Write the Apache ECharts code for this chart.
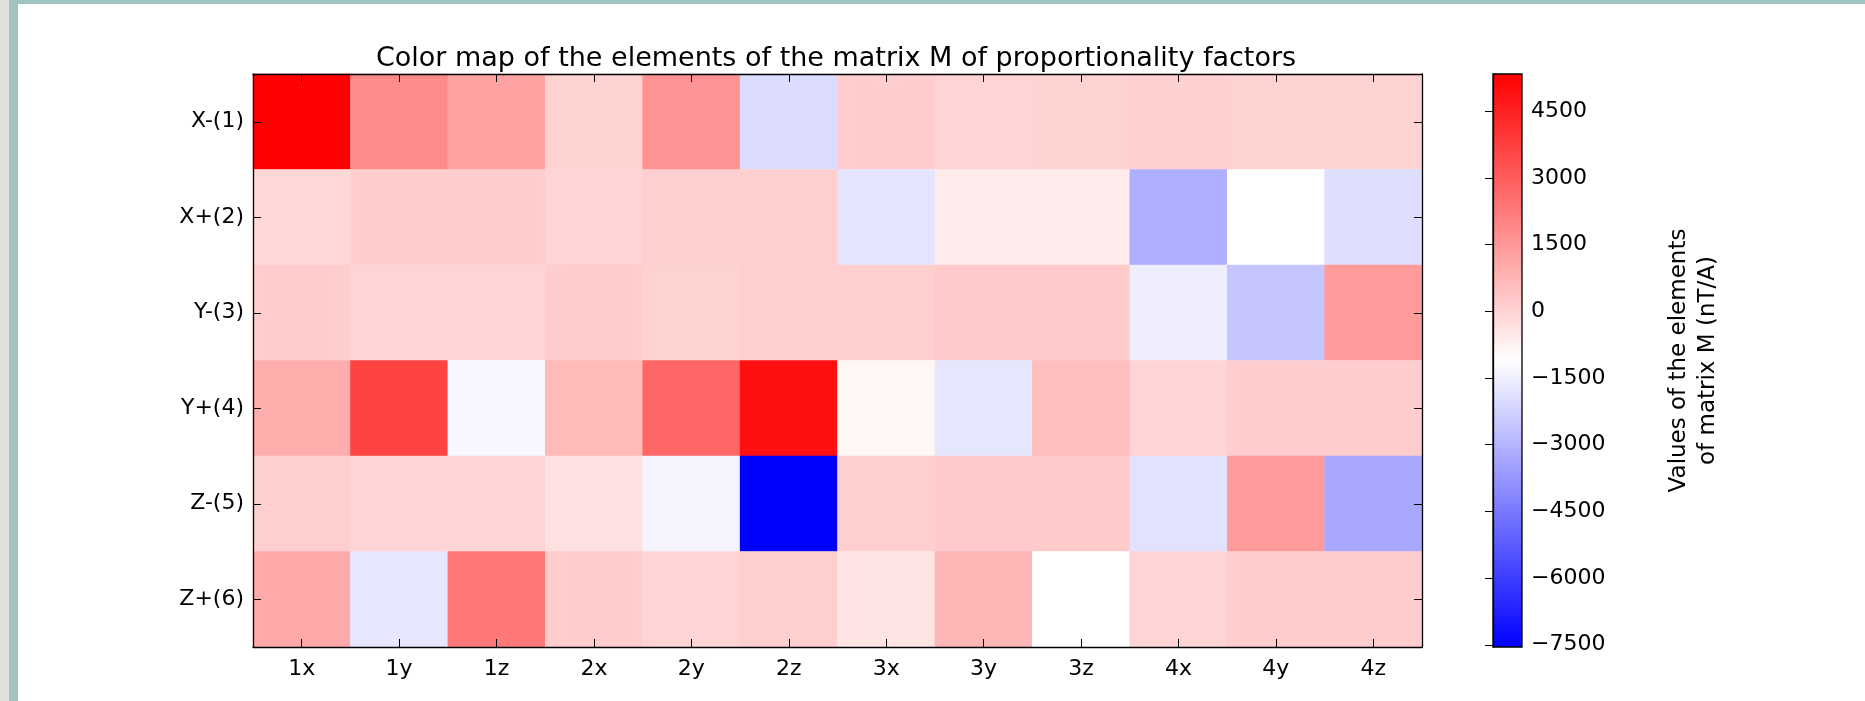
<!DOCTYPE html>
<html>
<head>
<meta charset="utf-8">
<script src="https://cdn.jsdelivr.net/npm/echarts@6/dist/echarts.min.js"></script>
<style>
  html, body { margin: 0; padding: 0; background: #ffffff; }
  #chart { position: absolute; left: 0; top: 0; width: 1865px; height: 701px; }
  .band { position: absolute; z-index: 5; }
</style>
</head>
<body>
<div id="chart"></div>
<div class="band" style="left:0;top:0;width:9px;height:701px;background:#e0e0dc;"></div>
<div class="band" style="left:9px;top:0;width:9px;height:701px;background:#9fc3bf;"></div>
<div class="band" style="left:9px;top:0;width:1856px;height:4px;background:#9fc3bf;"></div>
<script>
// ---- data ----
const rowLabels = ['X-(1)', 'X+(2)', 'Y-(3)', 'Y+(4)', 'Z-(5)', 'Z+(6)'];
const colLabels = ['1x', '1y', '1z', '2x', '2y', '2z', '3x', '3y', '3z', '4x', '4y', '4z'];
const rowX1 = [5335, 1850, 1240, 30, 1650, -1990, 155, -20, 30, 80, 30, 30];
const rowX2 = [-100, 155, 155, -20, 130, 130, -1790, -600, -600, -3130, -1110, -1940];
const rowY3 = [155, -20, -20, 155, 30, 105, 130, 230, 230, -1540, -2550, 1420];
const rowY4 = [990, 3670, -1310, 630, 2760, 4960, -870, -1740, 535, -20, 155, 155];
const rowZ5 = [105, -20, -20, -350, -1380, -7550, 105, 230, 230, -1840, 1420, -3310];
const rowZ6 = [1040, -1740, 2300, 155, -20, 105, -425, 735, -1110, -20, 155, 155];
const colorbarTicks = [-7500, -6000, -4500, -3000, -1500, 0, 1500, 3000, 4500];
const bwrColors = ['#0000ff', '#ffffff', '#ff0000'];

const rows = [rowX1, rowX2, rowY3, rowY4, rowZ5, rowZ6];
const heatData = [];
rows.forEach((r, ri) => r.forEach((v, ci) => heatData.push([ci, ri, v])));
const allVals = rows.flat();
const vmin = Math.min(...allVals);
const vmax = Math.max(...allVals);

const FONT = 'DejaVu Sans';
const fmt = v => (v < 0 ? '\u2212' + Math.abs(v) : String(v));

const gL = 253, gT = 74, gW = 1169, gH = 573;
const cbL = 1493, cbW = 29;

const tickStyle = { show: true, inside: true, length: 8, alignWithLabel: true, lineStyle: { color: '#000', width: 1 } };
const lineStyle = { show: true, lineStyle: { color: '#000', width: 1.3 } };

const chart = echarts.init(document.getElementById('chart'), null, { renderer: 'canvas' });
chart.setOption({
  backgroundColor: '#ffffff',
  animation: false,
  title: {
    text: 'Color map of the elements of the matrix M of proportionality factors',
    left: 831, textAlign: 'center', top: 40,
    textStyle: { fontFamily: FONT, fontSize: 27, fontWeight: 'normal', color: '#000' }
  },
  grid: [
    { left: gL, top: gT, width: gW, height: gH },
    { left: cbL, top: gT, width: cbW, height: gH }
  ],
  visualMap: {
    show: false, type: 'continuous', seriesIndex: 0, dimension: 2,
    min: vmin, max: vmax, inRange: { color: bwrColors }
  },
  xAxis: [
    { type: 'category', gridIndex: 0, data: colLabels, position: 'bottom', z: 10,
      axisLine: lineStyle, axisTick: tickStyle, splitLine: { show: false },
      axisLabel: { fontFamily: FONT, fontSize: 22, color: '#000', margin: 11 } },
    { type: 'category', gridIndex: 0, data: colLabels, position: 'top', z: 10,
      axisLine: lineStyle, axisTick: tickStyle, axisLabel: { show: false }, splitLine: { show: false } },
    { type: 'value', gridIndex: 1, min: 0, max: 1, show: false }
  ],
  yAxis: [
    { type: 'category', gridIndex: 0, data: rowLabels, inverse: true, position: 'left', z: 10,
      axisLine: lineStyle, axisTick: tickStyle, splitLine: { show: false },
      axisLabel: { fontFamily: FONT, fontSize: 22, color: '#000', margin: 9 } },
    { type: 'category', gridIndex: 0, data: rowLabels, inverse: true, position: 'right', z: 10,
      axisLine: lineStyle, axisTick: tickStyle, axisLabel: { show: false }, splitLine: { show: false } },
    { type: 'value', gridIndex: 1, min: vmin, max: vmax, position: 'right', z: 10,
      axisLine: lineStyle, splitLine: { show: false },
      axisTick: { show: true, inside: true, length: 8, customValues: colorbarTicks, lineStyle: { color: '#000', width: 1 } },
      axisLabel: { customValues: colorbarTicks, formatter: fmt, fontFamily: FONT, fontSize: 22, color: '#000', margin: 9 },
      name: 'Values of the elements\nof matrix M (nT/A)',
      nameLocation: 'middle', nameRotate: 90, nameGap: 143,
      nameTextStyle: { fontFamily: FONT, fontSize: 23, color: '#000', lineHeight: 29, align: 'center' } }
  ],
  series: [
    { type: 'heatmap', xAxisIndex: 0, yAxisIndex: 0, data: heatData,
      itemStyle: { borderWidth: 0 }, emphasis: { disabled: true }, progressive: 0 },
    { type: 'custom', xAxisIndex: 2, yAxisIndex: 2, data: [[0, vmin, vmax]],
      encode: { x: 0, y: [1, 2] }, silent: true, z: 2,
      renderItem: function (params, api) {
        const p0 = api.coord([0, api.value(1)]);
        const p1 = api.coord([1, api.value(2)]);
        return {
          type: 'rect',
          shape: { x: p0[0], y: p1[1], width: p1[0] - p0[0], height: p0[1] - p1[1] },
          style: {
            fill: new echarts.graphic.LinearGradient(0, 1, 0, 0, [
              { offset: 0, color: bwrColors[0] },
              { offset: 0.5, color: bwrColors[1] },
              { offset: 1, color: bwrColors[2] }
            ]),
            stroke: '#000', lineWidth: 1.3
          }
        };
      } }
  ]
});
</script>
</body>
</html>
